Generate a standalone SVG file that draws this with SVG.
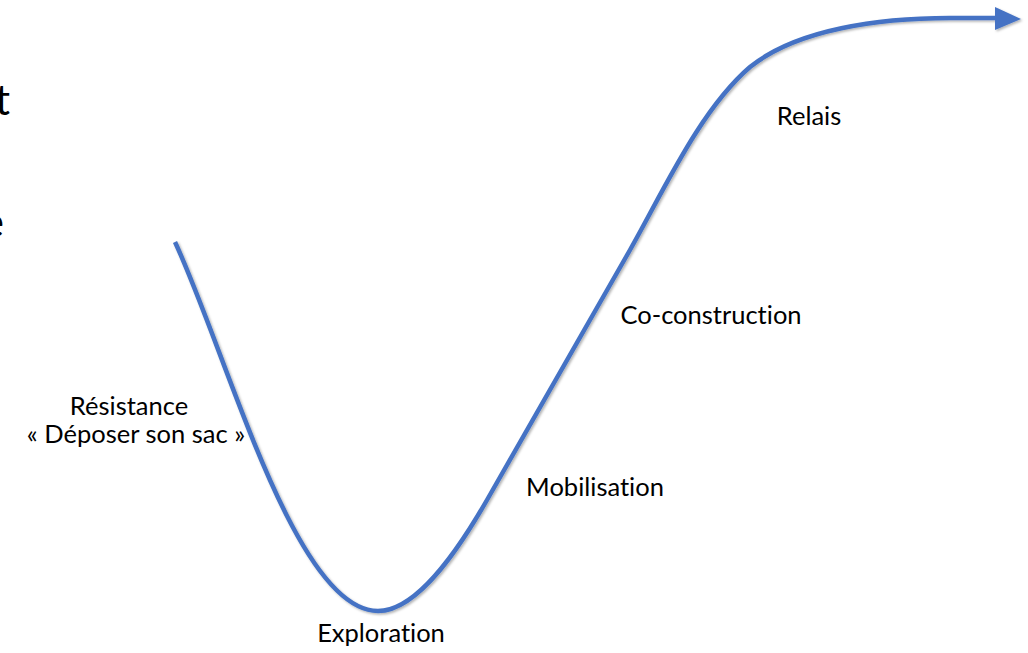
<svg xmlns="http://www.w3.org/2000/svg" width="1028" height="653" viewBox="0 0 1028 653">
  <style>
    .lbl { font-family: Lato, "Liberation Sans", sans-serif; font-size: 25.5px; fill: #000; text-anchor: middle; font-variant-ligatures: none; }
    .big { font-family: Lato, "Liberation Sans", sans-serif; font-size: 42px; fill: #000; text-anchor: end; }
    .curve { fill: none; stroke: #4472C4; stroke-width: 4.5; stroke-linecap: butt; }
  </style>
  <defs>
    <filter id="sh" x="-5%" y="-5%" width="110%" height="110%">
      <feDropShadow dx="1.5" dy="1.5" stdDeviation="1" flood-color="#000" flood-opacity="0.3"/>
    </filter>
  </defs>
  <rect width="1028" height="653" fill="#fff"/>
  <g id="cut-text">
    <text class="big" x="10" y="115">t</text>
    <text class="big" x="4" y="237">e</text>
  </g>
  <g id="connectors" filter="url(#sh)">
    <path class="curve" d="M175,242 C228,356 295,611 378,611 C420,611 464,540 487,500 L630,250 C664,190 700,110 750,67 C797,29 880,18 950,18 L997,18"/>
    <polygon points="995,7 1021,19 995,30" fill="#4472C4"/>
  </g>
  <g id="node-relais"><text class="lbl" x="809" y="125">Relais</text></g>
  <g id="node-coconstruction"><text class="lbl" x="711" y="324">Co-construction</text></g>
  <g id="node-mobilisation"><text class="lbl" x="595" y="496">Mobilisation</text></g>
  <g id="node-resistance">
    <text class="lbl" x="129" y="415">Résistance</text>
    <text class="lbl" x="136" y="443">« Déposer son sac »</text>
  </g>
  <g id="node-exploration"><text class="lbl" x="381" y="642">Exploration</text></g>
</svg>
